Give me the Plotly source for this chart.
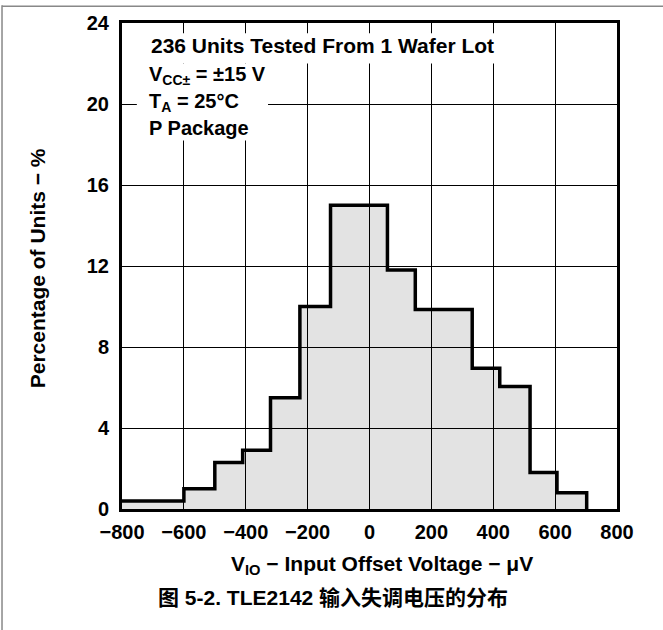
import plotly.graph_objects as go

# Histogram data (bin edges in µV, percentage of units per bin)
bin_edges = [-800, -600, -500, -410, -320, -225, -126, 58, 148, 332, 421, 519, 606, 702]
pct_units = [0.4, 1.0, 2.3, 2.9, 5.5, 10.0, 15.0, 11.8, 9.85, 6.95, 6.05, 1.8, 0.8]

x_ticks = [-800, -600, -400, -200, 0, 200, 400, 600, 800]
x_tick_text = ["\u2212800", "\u2212600", "\u2212400", "\u2212200", "0", "200", "400", "600", "800"]
y_ticks = [0, 4, 8, 12, 16, 20, 24]

FONT = "Liberation Sans, Arial, Noto Sans CJK SC, sans-serif"

xs = list(bin_edges) + [bin_edges[-1]]
ys = list(pct_units) + [pct_units[-1], 0]

fig = go.Figure()
fig.add_trace(go.Scatter(
    x=xs, y=ys, mode="lines", line=dict(shape="hv", color="black", width=3.5),
    fill="tozeroy", fillcolor="rgba(0,0,0,0.11)", hoverinfo="skip", showlegend=False,
))

fig.update_layout(
    width=663, height=630,
    margin=dict(l=122, r=46, t=18, b=121),
    paper_bgcolor="white", plot_bgcolor="white",
    font=dict(family=FONT, size=20, color="black"),
    showlegend=False,
    xaxis=dict(range=[-800, 800], tickvals=x_ticks, ticktext=[f"<b>{t}</b>" for t in x_tick_text],
               showgrid=True, gridcolor="black", gridwidth=1, zeroline=False,
               showline=True, linecolor="black", linewidth=3, mirror=True,
               ticks="", ticklabelstandoff=3, fixedrange=True),
    yaxis=dict(range=[0, 24], tickvals=y_ticks, ticktext=[f"<b>{t}</b>" for t in y_ticks],
               showgrid=True, gridcolor="black", gridwidth=1, zeroline=False,
               showline=True, linecolor="black", linewidth=3, mirror=True,
               ticks="", ticklabelstandoff=6, fixedrange=True),
)

# white boxes behind the condition text
fig.add_shape(type="rect", x0=-752, x1=405, y0=22.0, y1=23.5, fillcolor="white", line_width=0, layer="above")
fig.add_shape(type="rect", x0=-752, x1=-328, y0=18.2, y1=22.0, fillcolor="white", line_width=0, layer="above")

lines = [
    ("<b>236 Units Tested From 1 Wafer Lot</b>", 0.054, 0.953, 21),
    ("<b>V<sub>CC\u00b1</sub> = \u00b115 V</b>", 0.050, 0.891, 20),
    ("<b>T<sub>A</sub> = 25\u00b0C</b>", 0.050, 0.836, 20),
    ("<b>P Package</b>", 0.050, 0.783, 20),
]
for txt, xp, yp, fs in lines:
    fig.add_annotation(text=txt, xref="paper", yref="paper", x=xp, y=yp,
                       xanchor="left", yanchor="middle", showarrow=False,
                       font=dict(size=fs))

fig.add_annotation(text="<b>V<sub>IO</sub> \u2212 Input Offset Voltage \u2212 \u03bcV</b>",
                   xref="paper", yref="paper", x=0.5245, y=-0.116,
                   xanchor="center", yanchor="middle", showarrow=False, font=dict(size=21))
fig.add_annotation(text="<b>Percentage of Units \u2212 %</b>",
                   xref="paper", yref="paper", x=-0.170, y=0.495, textangle=-90,
                   xanchor="center", yanchor="middle", showarrow=False, font=dict(size=21))
fig.add_annotation(text="<b>图 5-2. TLE2142 输入失调电压的分布</b>",
                   xref="paper", yref="paper", x=0.426, y=-0.183,
                   xanchor="center", yanchor="middle", showarrow=False,
                   font=dict(size=21, family="Liberation Sans, Noto Sans CJK SC, sans-serif"))

# outer frame lines (left and top)
fig.add_shape(type="line", xref="paper", yref="paper", x0=-0.2424, x1=-0.2424, y0=1.0366, y1=-0.2505,
              line=dict(color="#888888", width=1.5))
fig.add_shape(type="line", xref="paper", yref="paper", x0=-0.2424, x1=1.093, y0=1.0346, y1=1.0346,
              line=dict(color="#888888", width=1.5))

fig.write_html("out.html", config={"displayModeBar": False},
               post_script="document.body.style.margin='0px';")
